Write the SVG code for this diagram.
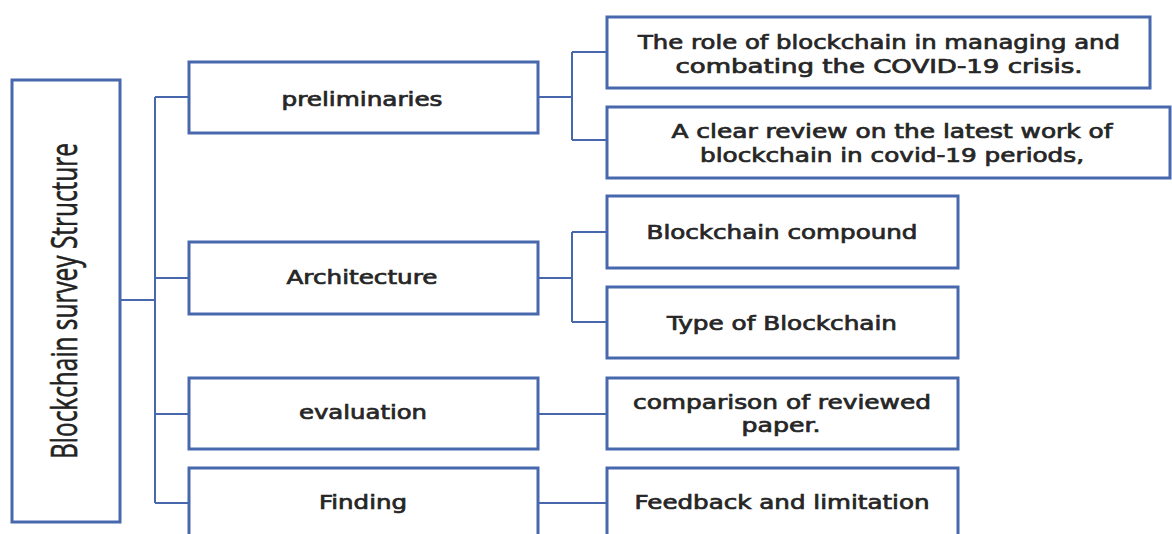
<svg xmlns="http://www.w3.org/2000/svg" width="1172" height="534" viewBox="0 0 1172 534">
<style>
.box{fill:#fff;stroke:#4868ad;stroke-width:3}
.con{fill:none;stroke:#4868ad;stroke-width:2}
.t{font-family:"DejaVu Sans","Liberation Sans",sans-serif;font-size:19px;fill:#262626;stroke:#262626;stroke-width:0.7;text-anchor:middle}
.v{font-family:"Open Sans","Liberation Sans",sans-serif;font-size:37px;fill:#222;stroke:#222;stroke-width:0.6;text-anchor:middle}
</style>
<rect width="1172" height="534" fill="#fff"/>
<g id="connectors">
<path class="con" d="M120 300H155M155 97V503M155 97H189M155 278H189M155 414H189M155 503H189"/>
<path class="con" d="M538 97H572M572 52V140M572 52H607M572 140H607"/>
<path class="con" d="M538 278H572M572 232V322M572 232H607M572 322H607"/>
<path class="con" d="M538 414H607M538 503H607"/>
</g>
<g id="root">
<rect class="box" x="12" y="80" width="108" height="442"/>
<text class="v" transform="translate(77 301) rotate(-90) scale(0.66 1)">Blockchain survey Structure</text>
</g>
<g id="preliminaries">
<rect class="box" x="189" y="62" width="349" height="71"/>
<text class="t" x="362" y="106" textLength="161" lengthAdjust="spacingAndGlyphs">preliminaries</text>
</g>
<g id="architecture">
<rect class="box" x="189" y="242" width="349" height="72"/>
<text class="t" x="362" y="284" textLength="151" lengthAdjust="spacingAndGlyphs">Architecture</text>
</g>
<g id="evaluation">
<rect class="box" x="189" y="378" width="349" height="71"/>
<text class="t" x="363" y="419" textLength="128" lengthAdjust="spacingAndGlyphs">evaluation</text>
</g>
<g id="finding">
<rect class="box" x="189" y="468" width="349" height="80"/>
<text class="t" x="363" y="509" textLength="88" lengthAdjust="spacingAndGlyphs">Finding</text>
</g>
<g id="role">
<rect class="box" x="607" y="17" width="543" height="71"/>
<text class="t" x="879" y="49" textLength="482" lengthAdjust="spacingAndGlyphs">The role of blockchain in managing and</text>
<text class="t" x="879" y="73" textLength="407" lengthAdjust="spacingAndGlyphs">combating the COVID-19 crisis.</text>
</g>
<g id="review">
<rect class="box" x="607" y="107" width="563" height="71"/>
<text class="t" x="892" y="138" textLength="441" lengthAdjust="spacingAndGlyphs">A clear review on the latest work of</text>
<text class="t" x="892" y="162" textLength="384" lengthAdjust="spacingAndGlyphs">blockchain in covid-19 periods,</text>
</g>
<g id="compound">
<rect class="box" x="607" y="196" width="351" height="72"/>
<text class="t" x="782" y="239" textLength="271" lengthAdjust="spacingAndGlyphs">Blockchain compound</text>
</g>
<g id="type">
<rect class="box" x="607" y="287" width="351" height="71"/>
<text class="t" x="782" y="330" textLength="230" lengthAdjust="spacingAndGlyphs">Type of Blockchain</text>
</g>
<g id="comparison">
<rect class="box" x="607" y="378" width="351" height="71"/>
<text class="t" x="782" y="409" textLength="298" lengthAdjust="spacingAndGlyphs">comparison of reviewed</text>
<text class="t" x="781" y="432" textLength="79" lengthAdjust="spacingAndGlyphs">paper.</text>
</g>
<g id="feedback">
<rect class="box" x="607" y="468" width="351" height="80"/>
<text class="t" x="782" y="509" textLength="295" lengthAdjust="spacingAndGlyphs">Feedback and limitation</text>
</g>
</svg>
